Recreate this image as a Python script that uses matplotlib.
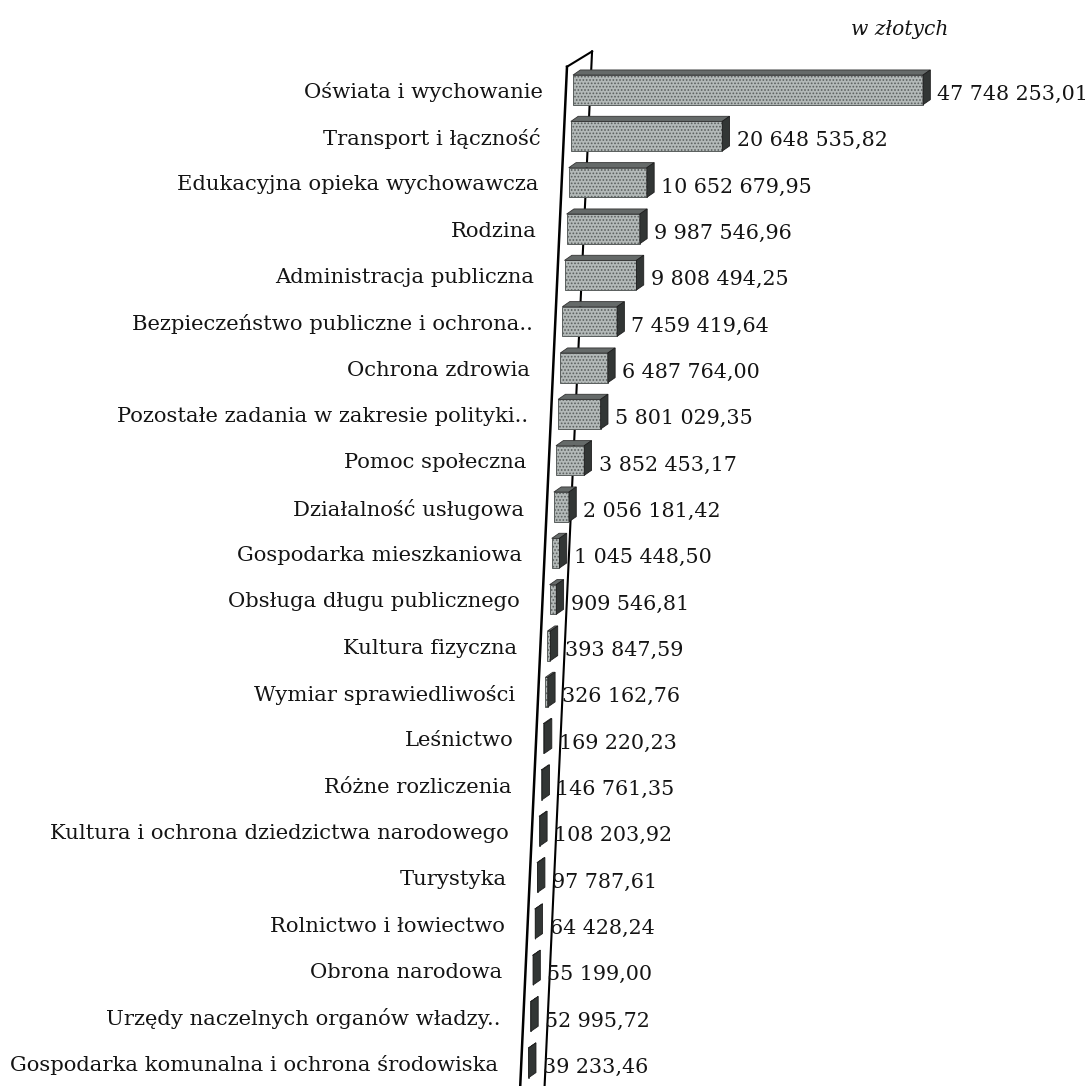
import matplotlib.pyplot as plt
import numpy as np

categories = [
    "Oświata i wychowanie",
    "Transport i łączność",
    "Edukacyjna opieka wychowawcza",
    "Rodzina",
    "Administracja publiczna",
    "Bezpieczeństwo publiczne i ochrona..",
    "Ochrona zdrowia",
    "Pozostałe zadania w zakresie polityki..",
    "Pomoc społeczna",
    "Działalność usługowa",
    "Gospodarka mieszkaniowa",
    "Obsługa długu publicznego",
    "Kultura fizyczna",
    "Wymiar sprawiedliwości",
    "Leśnictwo",
    "Różne rozliczenia",
    "Kultura i ochrona dziedzictwa narodowego",
    "Turystyka",
    "Rolnictwo i łowiectwo",
    "Obrona narodowa",
    "Urzędy naczelnych organów władzy..",
    "Gospodarka komunalna i ochrona środowiska",
]
values = [
    47748253.01, 20648535.82, 10652679.95, 9987546.96, 9808494.25,
    7459419.64, 6487764.00, 5801029.35, 3852453.17, 2056181.42,
    1045448.50, 909546.81, 393847.59, 326162.76, 169220.23,
    146761.35, 108203.92, 97787.61, 64428.24, 55199.00,
    52995.72, 39233.46,
]
unit_label = "w złotych"


def fmt(v):
    s = f"{v:,.2f}"
    return s.replace(",", " ").replace(".", ",")


plt.rcParams['font.family'] = ['DejaVu Serif']
plt.rcParams['hatch.linewidth'] = 0.8
fig = plt.figure(figsize=(10.87, 10.86), dpi=100)
ax = fig.add_axes([0, 0, 1, 1])

vals = np.array(values) / 1e6
rows = np.arange(len(vals))
slant = 0.29          # wall leans left going down (M per row)
lefts = -slant * rows
h = 0.64
dx, dy = 1.0, 0.11    # depth of the 3d effect

# the wall
top_row, bot_row = -0.5, 21.6
ax.plot([-0.82, -0.82 - slant * (bot_row - top_row)],
        [top_row, bot_row], color='black', lw=1.8, zorder=5)
ax.plot([-0.82, 2.6], [top_row, top_row - 0.33], color='black', lw=1.5, zorder=5)
ax.plot([2.6, 2.6 - slant * (bot_row - top_row + 0.33)],
        [top_row - 0.33, bot_row], color='black', lw=1.5, zorder=1)

# bars: front face, top face, end cap
ax.barh(rows, vals, left=lefts, height=h, color='#b3b9b8', edgecolor='#5a5f5e',
        hatch='.....', linewidth=0.7, zorder=3)
for i, v in enumerate(vals):
    L = lefts[i]
    yt, yb = i - h / 2, i + h / 2
    ax.fill([L, L + v, L + v + dx, L + dx], [yt, yt, yt - dy, yt - dy],
            color='#656a69', edgecolor='#333333', lw=0.6, zorder=4)
    ax.fill([L + v, L + v, L + v + dx, L + v + dx], [yt, yb, yb - dy, yt - dy],
            color='#323635', edgecolor='#1e1e1e', lw=0.6, zorder=4)
    ax.text(L - 4.09, i + 0.05, categories[i], ha='right', va='center',
            fontsize=15.2, color='#141414')
    ax.text(L + v + 1.95, i + 0.1, fmt(values[i]), ha='left', va='center',
            fontsize=14.9, color='#141414')

ax.text(44.6, -1.3, unit_label, ha='center', va='center', fontsize=14.6,
        style='italic', color='#141414')

ax.set_xlim(-78.17, 70.12)
ax.set_ylim(21.5, -1.94)
ax.axis('off')

fig.savefig('out.png', dpi=100)
